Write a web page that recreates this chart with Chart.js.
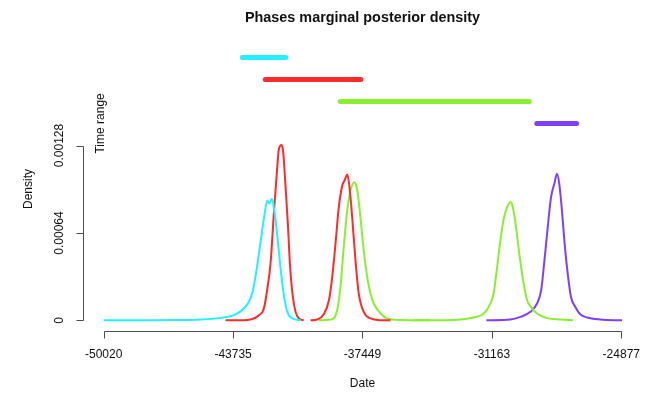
<!DOCTYPE html>
<html lang="en">
<head>
    <meta charset="UTF-8">
    <title>Phases marginal posterior density</title>
    <script src="https://cdn.jsdelivr.net/npm/chart.js"></script>
    <style>
        html, body { margin: 0; padding: 0; background: #fff; }
    </style>
</head>
<body>
    <canvas id="densityChart" width="648" height="393"></canvas>

    <script>
        // Density curves (date, density)
        const cyanDates = [-50020, -48900, -47740, -46500, -45310, -44340, -43700, -43210, -42890, -42720, -42560, -42400, -42240, -42070, -41980, -41850, -41720, -41590, -41430, -41270, -41100, -40860, -40460];
        const cyanDensity = [0.000001, 0.000002, 0.000002, 0.000003, 0.000007, 0.000019, 0.000039, 0.000088, 0.000161, 0.000258, 0.000404, 0.000574, 0.000744, 0.000878, 0.000856, 0.000890, 0.000793, 0.000623, 0.000382, 0.000185, 0.000063, 0.000015, 0.000002];

        const redADates = [-44100, -43300, -42890, -42480, -42240, -42070, -41910, -41750, -41620, -41510, -41380, -41300, -41190, -41070, -40980, -40860, -40700, -40540, -40300];
        const redADensity = [0.000001, 0.000002, 0.000007, 0.000039, 0.000088, 0.000234, 0.000428, 0.000793, 0.001060, 0.001255, 0.001284, 0.001230, 0.000987, 0.000696, 0.000428, 0.000209, 0.000063, 0.000015, 0.000002];

        const redBDates = [-39970, -39650, -39330, -39080, -38920, -38760, -38600, -38430, -38320, -38190, -38080, -37950, -37790, -37630, -37390, -37060, -36570, -36090];
        const redBDensity = [0.000001, 0.000007, 0.000046, 0.000148, 0.000318, 0.000562, 0.000829, 0.000987, 0.001024, 0.001068, 0.000975, 0.000756, 0.000440, 0.000197, 0.000063, 0.000015, 0.000002, 0.000001];

        const greenADates = [-39570, -39000, -38680, -38520, -38360, -38190, -38030, -37840, -37700, -37550, -37390, -37220, -37060, -36900, -36570, -36250, -35600, -34150];
        const greenADensity = [0.000001, 0.000007, 0.000075, 0.000245, 0.000537, 0.000805, 0.000951, 0.001012, 0.000951, 0.000756, 0.000513, 0.000318, 0.000197, 0.000124, 0.000051, 0.000015, 0.000003, 0.000001];

        const greenBDates = [-35000, -33500, -32690, -32050, -31560, -31240, -31080, -30910, -30750, -30590, -30420, -30260, -30130, -29970, -29810, -29620, -29450, -29210, -28970, -28480, -27840, -27220];
        const greenBDensity = [0.000001, 0.000002, 0.000007, 0.000022, 0.000051, 0.000124, 0.000197, 0.000391, 0.000586, 0.000744, 0.000829, 0.000866, 0.000817, 0.000659, 0.000464, 0.000270, 0.000148, 0.000088, 0.000051, 0.000017, 0.000007, 0.000002];

        const purpleDates = [-31430, -30260, -29780, -29290, -28970, -28770, -28610, -28450, -28290, -28130, -28000, -27890, -27760, -27630, -27480, -27320, -27110, -26870, -26540, -25900, -24840];
        const purpleDensity = [0.000001, 0.000007, 0.000026, 0.000063, 0.000124, 0.000221, 0.000440, 0.000683, 0.000902, 0.001000, 0.001073, 0.001000, 0.000805, 0.000562, 0.000343, 0.000172, 0.000099, 0.000046, 0.000022, 0.000007, 0.000001];

        // Time range bars (one per phase, top to bottom)
        const rangeStart = [-43280, -42170, -38530, -28980];
        const rangeEnd = [-41180, -37530, -29350, -27050];
        const rangeLevel = [0.001924, 0.001763, 0.001603, 0.001442];

        // Axis ticks
        const xTicks = [-50020, -43735, -37449, -31163, -24877];
        const yTicks = [0, 0.00064, 0.00128];
        const yTickLabels = ['0', '0.00064', '0.00128'];

        const phaseColors = ['#22F2FF', '#FF2A2A', '#88F030', '#7F3FFF'];

        function pairs(xs, ys) {
            return xs.map((v, i) => ({ x: v, y: ys[i] }));
        }

        function curve(xs, ys, color) {
            return {
                data: pairs(xs, ys),
                borderColor: color,
                borderWidth: 2,
                pointRadius: 0,
                cubicInterpolationMode: 'monotone',
                fill: false
            };
        }

        const datasets = [
            curve(cyanDates, cyanDensity, phaseColors[0]),
            curve(redADates, redADensity, phaseColors[1]),
            curve(redBDates, redBDensity, phaseColors[1]),
            curve(greenADates, greenADensity, phaseColors[2]),
            curve(greenBDates, greenBDensity, phaseColors[2]),
            curve(purpleDates, purpleDensity, phaseColors[3])
        ];

        rangeStart.forEach((s, i) => {
            datasets.push({
                data: [{ x: s, y: rangeLevel[i] }, { x: rangeEnd[i], y: rangeLevel[i] }],
                borderColor: phaseColors[i],
                borderWidth: 5,
                borderCapStyle: 'round',
                pointRadius: 0,
                fill: false
            });
        });

        // R-style axes and labels
        const rAxes = {
            id: 'rAxes',
            afterDraw(chart) {
                const ctx = chart.ctx;
                const xs = chart.scales.x, ys = chart.scales.y;
                const area = chart.chartArea;
                ctx.save();
                ctx.strokeStyle = '#4d4d4d';
                ctx.lineWidth = 1;

                // x axis
                const ay = Math.round(area.bottom) + 0.5;
                const x0 = Math.round(xs.getPixelForValue(xTicks[0])) + 0.5;
                const x1 = Math.round(xs.getPixelForValue(xTicks[xTicks.length - 1])) + 0.5;
                ctx.beginPath();
                ctx.moveTo(x0, ay);
                ctx.lineTo(x1, ay);
                xTicks.forEach(t => {
                    const px = Math.round(xs.getPixelForValue(t)) + 0.5;
                    ctx.moveTo(px, ay);
                    ctx.lineTo(px, ay + 7);
                });
                ctx.stroke();

                // y axis
                const ax = Math.round(area.left) + 0.5;
                const y0 = Math.round(ys.getPixelForValue(yTicks[0])) + 0.5;
                const y1 = Math.round(ys.getPixelForValue(yTicks[yTicks.length - 1])) + 0.5;
                ctx.beginPath();
                ctx.moveTo(ax, y0);
                ctx.lineTo(ax, y1);
                yTicks.forEach(t => {
                    const py = Math.round(ys.getPixelForValue(t)) + 0.5;
                    ctx.moveTo(ax, py);
                    ctx.lineTo(ax - 7, py);
                });
                ctx.stroke();

                ctx.fillStyle = '#111';
                ctx.font = '12px "Liberation Sans", Arial, sans-serif';
                ctx.textAlign = 'center';
                ctx.textBaseline = 'middle';
                xTicks.forEach(t => {
                    ctx.fillText(String(t), xs.getPixelForValue(t), ay + 23);
                });
                yTicks.forEach((t, i) => {
                    ctx.save();
                    ctx.translate(area.left - 23, ys.getPixelForValue(t));
                    ctx.rotate(-Math.PI / 2);
                    ctx.fillText(yTickLabels[i], 0, 0);
                    ctx.restore();
                });

                const midX = (area.left + area.right) / 2;
                ctx.fillText('Date', midX, 384);

                ctx.save();
                ctx.translate(29, (area.top + area.bottom) / 2);
                ctx.rotate(-Math.PI / 2);
                ctx.fillText('Density', 0, 0);
                ctx.restore();

                ctx.save();
                ctx.translate(101, ys.getPixelForValue(rangeLevel[3]));
                ctx.rotate(-Math.PI / 2);
                ctx.fillText('Time range', 0, 0);
                ctx.restore();

                ctx.font = 'bold 14.4px "Liberation Sans", Arial, sans-serif';
                ctx.fillText('Phases marginal posterior density', midX, 18);
                ctx.restore();
            }
        };

        new Chart(document.getElementById('densityChart'), {
            type: 'line',
            data: { datasets: datasets },
            options: {
                responsive: false,
                animation: false,
                parsing: true,
                layout: { padding: { left: 83, right: 6, top: 47, bottom: 62 } },
                scales: {
                    x: { type: 'linear', display: false, min: -51026, max: -23871 },
                    y: { type: 'linear', display: false, min: -0.000077, max: 0.002001 }
                },
                plugins: {
                    legend: { display: false },
                    tooltip: { enabled: false },
                    title: { display: false }
                }
            },
            plugins: [rAxes]
        });
    </script>
</body>
</html>
